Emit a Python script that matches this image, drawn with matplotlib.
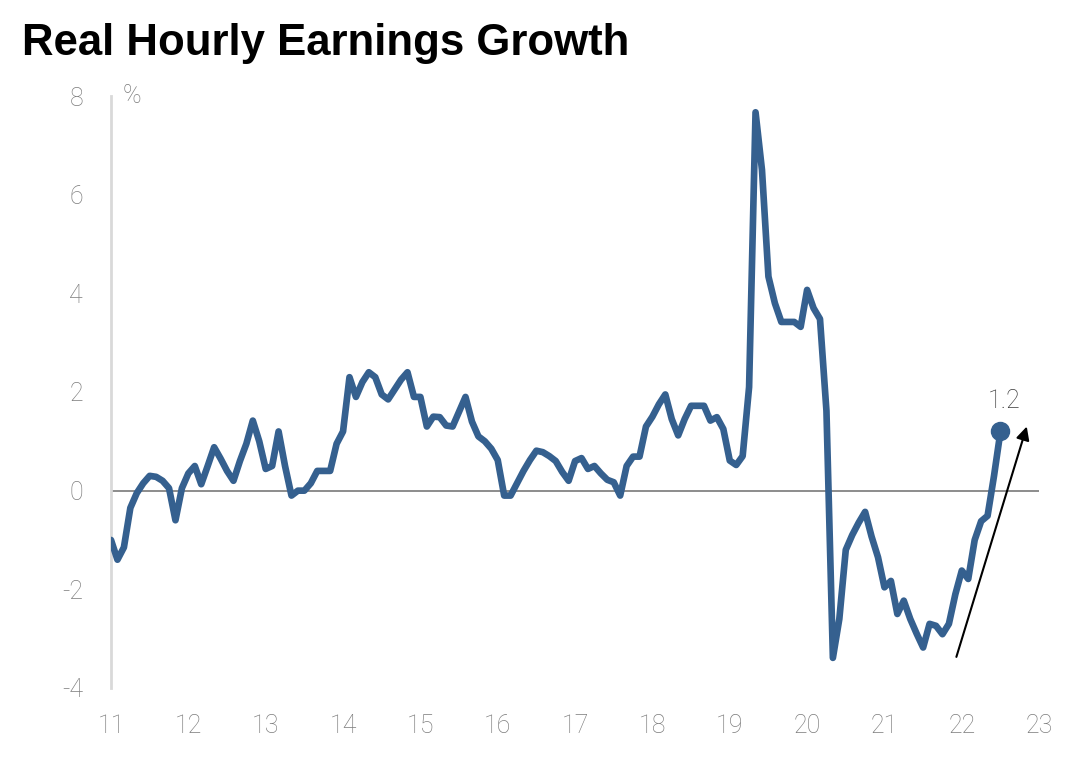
import numpy as np
import matplotlib
matplotlib.use("Agg")
import matplotlib.pyplot as plt

plt.rcParams["axes.unicode_minus"] = False

# monthly real hourly earnings growth (%), starting Jan 2011
start_year = 2011
real_growth = [
    -1.0, -1.4, -1.15, -0.35, -0.05, 0.15, 0.3, 0.28, 0.2, 0.05, -0.6, 0.05,
    0.35, 0.5, 0.13, 0.5, 0.88, 0.65, 0.4, 0.2, 0.6, 0.95, 1.42, 1.0,
    0.44, 0.5, 1.2, 0.5, -0.1, 0.0, 0.0, 0.15, 0.4, 0.4, 0.4, 0.95,
    1.2, 2.3, 1.9, 2.2, 2.4, 2.3, 1.95, 1.85, 2.05, 2.25, 2.4, 1.9,
    1.9, 1.3, 1.5, 1.49, 1.32, 1.3, 1.6, 1.9, 1.4, 1.1, 1.0, 0.85,
    0.62, -0.1, -0.1, 0.15, 0.4, 0.62, 0.81, 0.78, 0.7, 0.6, 0.38, 0.2,
    0.6, 0.66, 0.44, 0.5, 0.35, 0.22, 0.17, -0.1, 0.5, 0.69, 0.69, 1.3,
    1.5, 1.75, 1.95, 1.45, 1.12, 1.45, 1.72, 1.72, 1.72, 1.42, 1.49, 1.25,
    0.61, 0.52, 0.7, 2.1, 7.67, 6.5, 4.34, 3.8, 3.42, 3.42, 3.42, 3.32,
    4.07, 3.7, 3.48, 1.62, -3.39, -2.6, -1.2, -0.9, -0.65, -0.43, -0.93, -1.35,
    -1.96, -1.83, -2.5, -2.23, -2.6, -2.9, -3.18, -2.7, -2.74, -2.91, -2.7, -2.1,
    -1.62, -1.79, -1.0, -0.62, -0.51, 0.3, 1.2,
]
x_ticks = list(range(2011, 2024))
x_labels = [str(y)[2:] for y in x_ticks]
y_ticks = [-4, -2, 0, 2, 4, 6, 8]

x = start_year + np.arange(len(real_growth)) / 12.0
last_x, last_y = x[-1], real_growth[-1]

blue = "#35608f"
grey = "#7c7c7c"

fig = plt.figure(figsize=(10.83, 7.68), dpi=100)
ax = fig.add_axes([0.1025, 0.1042, 0.857, 0.7708])

ax.axhline(0, color="#8c8c8c", lw=1.4, zorder=1)
ax.plot(x, real_growth, color=blue, lw=4.8, solid_joinstyle="round",
        solid_capstyle="round", zorder=3)
ax.plot([last_x], [last_y], "o", color=blue, ms=13, zorder=4)
ax.text(last_x + 0.05, last_y + 0.62, "%.1f" % last_y, ha="center", va="center",
        fontsize=18, color="#3a3a3a", family="Roboto", fontweight="light")

# trend arrow
ax.annotate("", xy=(2022.84, 1.3), xytext=(2021.93, -3.37),
            arrowprops=dict(arrowstyle="-|>", color="black", lw=1.5,
                            mutation_scale=20, shrinkA=0, shrinkB=0), zorder=5)

ax.set_xlim(2011, 2023)
ax.set_ylim(-4, 8)
ax.set_xticks(x_ticks)
ax.set_xticklabels(x_labels)
ax.set_yticks(y_ticks)
ax.tick_params(length=0, labelsize=18, labelcolor=grey)
ax.tick_params(axis="y", pad=20)
ax.tick_params(axis="x", pad=19)
for lab in ax.get_xticklabels() + ax.get_yticklabels():
    lab.set_family("Roboto")
    lab.set_fontweight("light")

for s in ["top", "right", "bottom"]:
    ax.spines[s].set_visible(False)
ax.spines["left"].set_color("#d9d9d9")
ax.spines["left"].set_linewidth(2)

ax.text(0.012, 1.0, "%", transform=ax.transAxes, ha="left", va="center",
        fontsize=18, color=grey, family="Roboto", fontweight="light")

fig.text(0.02, 0.943, "Real Hourly Earnings Growth", ha="left", va="center",
         fontsize=31.5, fontweight="bold", family="Liberation Sans", color="black")

fig.savefig("out.png", dpi=100, facecolor="white")
